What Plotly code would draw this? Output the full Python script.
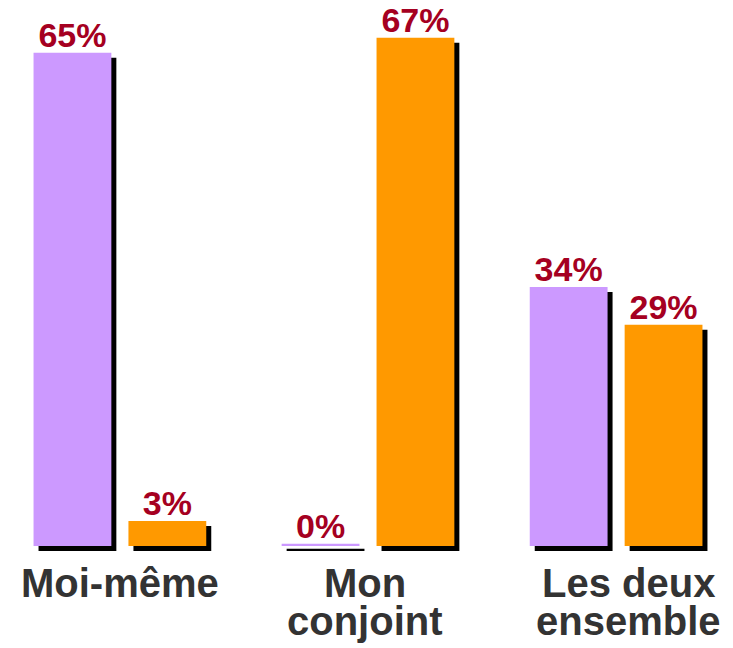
import plotly.graph_objects as go

# data
categories = ["Moi-même", "Mon conjoint", "Les deux ensemble"]
label_lines = [["Moi-même"], ["Mon", "conjoint"], ["Les deux", "ensemble"]]
serie_a = [65, 0, 34]
serie_b = [3, 67, 29]
names = ["Série 1", "Série 2"]

colors = ["#CC99FF", "#FF9900"]
text_red = "#A50021"
font_fam = "Liberation Sans, Arial, sans-serif"

# page has an 8px body margin, so the figure is sized to the visible area
W, H = 725, 640
T, B = 7, 97
sh = 5   # shadow offset in px
tdrop = 4  # value labels sit a bit closer to the bars
plot_h = H - T - B

x_range = [-0.451, 2.451]
y_range = [-0.3, 70]
floor = 0.3  # thin floor so that a 0% bar still shows as a line
label_xshift = [0, -3, 12]

fig = go.Figure()

# --- shadows (drawn first, on x/y, shifted right and down)
for vals in (serie_a, serie_b):
	fig.add_trace(go.Bar(
		x=categories, y=[v + floor for v in vals], base=-floor,
		marker=dict(color="black", line=dict(width=0)),
		xaxis="x", yaxis="y",
		showlegend=False, hoverinfo="skip",
	))

# --- value labels on transparent bars (x2/y3, slightly lowered)
for vals in (serie_a, serie_b):
	fig.add_trace(go.Bar(
		x=categories, y=[v + floor for v in vals], base=-floor,
		marker=dict(color="rgba(0,0,0,0)", line=dict(width=0)),
		text=[f"{v}%" for v in vals],
		textposition="outside",
		constraintext="none",
		cliponaxis=False,
		textfont=dict(family=font_fam, size=34, color=text_red, weight="bold"),
		xaxis="x2", yaxis="y3",
		showlegend=False, hoverinfo="skip",
	))

# --- bars (x2/y2)
for vals, name, col in zip((serie_a, serie_b), names, colors):
	fig.add_trace(go.Bar(
		x=categories, y=[v + floor for v in vals], base=-floor, name=name,
		marker=dict(color=col, line=dict(width=0)),
		customdata=vals,
		hovertemplate="%{x}: %{customdata}%<extra></extra>",
		xaxis="x2", yaxis="y2",
		showlegend=False,
	))

# --- category labels, one annotation per line (tighter line spacing)
for cat, lines, dx in zip(categories, label_lines, label_xshift):
	for i, line in enumerate(lines):
		fig.add_annotation(
			x=cat, xref="x2", y=0, yref="paper",
			yanchor="top", yshift=-8 - 38 * i, xshift=dx,
			text=line, showarrow=False,
			font=dict(family=font_fam, size=40, color="#333333", weight="bold"),
		)

axis_off = dict(showgrid=False, showticklabels=False, zeroline=False, showline=False, ticks="")

fig.update_layout(
	width=W, height=H,
	margin=dict(l=0, r=0, t=T, b=B),
	paper_bgcolor="white", plot_bgcolor="rgba(0,0,0,0)",
	barmode="group", bargap=0.235, bargroupgap=0.18,
	showlegend=False,
	xaxis=dict(domain=[sh / W, 1], range=x_range, type="category", **axis_off),
	yaxis=dict(domain=[0, 1 - sh / plot_h], range=y_range, **axis_off),
	xaxis2=dict(domain=[0, 1 - sh / W], range=x_range, type="category", anchor="y2", **axis_off),
	yaxis2=dict(domain=[sh / plot_h, 1], range=y_range, anchor="x2", **axis_off),
	yaxis3=dict(domain=[(sh - tdrop) / plot_h, 1 - tdrop / plot_h], range=y_range, anchor="x2", **axis_off),
)

fig.write_html("out.html")
